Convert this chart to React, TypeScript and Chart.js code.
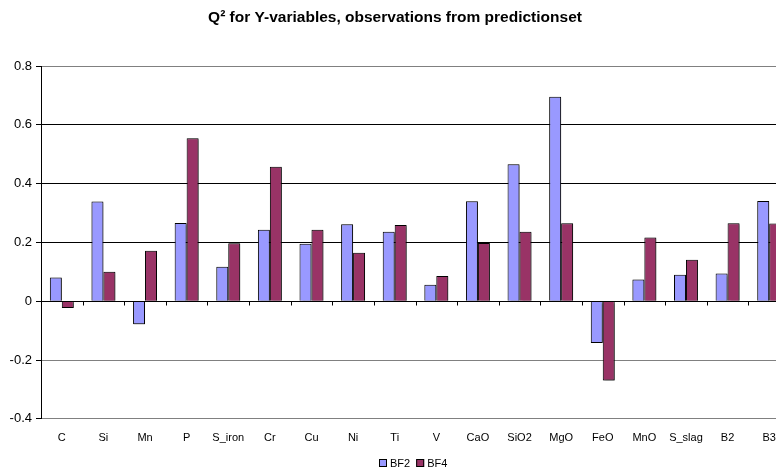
import React, { useEffect, useRef } from "react";
import { Chart, registerables } from "chart.js";

Chart.register(...registerables);

const categories = ["C", "Si", "Mn", "P", "S_iron", "Cr", "Cu", "Ni", "Ti", "V", "CaO", "SiO2", "MgO", "FeO", "MnO", "S_slag", "B2", "B3"];
const bf2 = [0.081, 0.339, -0.078, 0.266, 0.117, 0.243, 0.195, 0.262, 0.236, 0.056, 0.34, 0.466, 0.695, -0.142, 0.074, 0.09, 0.094, 0.341];
const bf4 = [-0.023, 0.1, 0.172, 0.554, 0.197, 0.457, 0.243, 0.165, 0.259, 0.086, 0.198, 0.236, 0.265, -0.27, 0.217, 0.141, 0.265, 0.264];
const yTicks = [-0.4, -0.2, 0, 0.2, 0.4, 0.6, 0.8];

const FONT = "'Liberation Sans', Arial, sans-serif";

const shadowPlugin = {
  id: "barShadow",
  beforeDatasetsDraw(chart: any) {
    const ctx = chart.ctx;
    ctx.save();
    ctx.shadowColor = "rgba(0,0,0,0.5)";
    ctx.shadowBlur = 2;
    ctx.shadowOffsetX = 1;
    ctx.shadowOffsetY = 1;
  },
  afterDatasetsDraw(chart: any) {
    chart.ctx.restore();
  },
};

const zeroAxisPlugin = {
  id: "zeroAxis",
  afterDatasetsDraw(chart: any) {
    const ctx = chart.ctx;
    const x = chart.scales.x;
    const y = chart.scales.y;
    const y0 = Math.round(y.getPixelForValue(0)) + 0.5;
    ctx.save();
    ctx.strokeStyle = "#000";
    ctx.lineWidth = 1;
    ctx.beginPath();
    ctx.moveTo(chart.chartArea.left, y0);
    ctx.lineTo(chart.chartArea.right, y0);
    const half = (x.getPixelForValue(1) - x.getPixelForValue(0)) / 2;
    for (let i = 0; i < categories.length; i++) {
      const px = Math.round(x.getPixelForValue(i) + half) + 0.5;
      ctx.moveTo(px, y0);
      ctx.lineTo(px, y0 + 4);
    }
    ctx.stroke();
    ctx.restore();
  },
};

const legendPlugin = {
  id: "customLegend",
  afterDraw(chart: any) {
    const ctx = chart.ctx;
    ctx.save();
    ctx.font = `11px ${FONT}`;
    ctx.textBaseline = "middle";
    ctx.textAlign = "left";
    const box = 8;
    const gap = 3;
    const itemGap = 6;
    const items = chart.data.datasets.map((d: any) => ({ label: d.label, color: d.backgroundColor, w: box + gap + ctx.measureText(d.label).width }));
    const total = items.reduce((s: number, it: any) => s + it.w, 0) + itemGap * (items.length - 1);
    let x = Math.round(413 - total / 2);
    const cy = 463;
    for (const it of items) {
      ctx.fillStyle = it.color;
      ctx.fillRect(x, cy - 4, box, box);
      ctx.strokeStyle = "#000";
      ctx.lineWidth = 1;
      ctx.strokeRect(x + 0.5, cy - 3.5, box - 1, box - 1);
      ctx.fillStyle = "#000";
      ctx.fillText(it.label, x + box + gap, cy + 0.5);
      x += it.w + itemGap;
    }
    ctx.restore();
  },
};

export default function App() {
  const ref = useRef<HTMLCanvasElement | null>(null);
  useEffect(() => {
    if (!ref.current) return;
    const chart = new Chart(ref.current, {
      type: "bar",
      data: {
        labels: categories,
        datasets: [
          { label: "BF2", data: bf2, backgroundColor: "#9999FF", borderColor: "#000", borderWidth: 1 },
          { label: "BF4", data: bf4, backgroundColor: "#993366", borderColor: "#000", borderWidth: 1 },
        ],
      },
      options: {
        responsive: false,
        animation: false,
        devicePixelRatio: 1,
        layout: { padding: { left: 0, right: 10, top: 0, bottom: 23 } },
        datasets: { bar: { categoryPercentage: 0.575, barPercentage: 1 } } as any,
        plugins: {
          title: {
            display: true,
            text: "Q² for Y-variables, observations from predictionset",
            color: "#000",
            font: { family: FONT, size: 15.5, weight: "bold" },
            padding: { top: 8.7, bottom: 38.7 },
          },
          legend: { display: false },
          tooltip: { enabled: false },
        },
        scales: {
          x: {
            grid: { display: false },
            border: { display: false },
            ticks: { color: "#000", font: { family: FONT, size: 11 }, padding: 5, maxRotation: 0, autoSkip: false },
          },
          y: {
            min: -0.4,
            max: 0.8,
            afterFit(scale: any) { scale.width = 41; },
            afterBuildTicks(scale: any) { scale.ticks = yTicks.map((v) => ({ value: v })); },
            border: { display: true, color: "#000", width: 1 },
            grid: {
              color: (c: any) => ([0, 0.2, 0.4, 0.6].some((v) => Math.abs(c.tick?.value - v) < 1e-6) ? "#000" : "#808080"),
              tickColor: "#000",
              tickLength: 5,
              lineWidth: 1,
            },
            ticks: {
              color: "#000",
              font: { family: FONT, size: 13 },
              padding: 4,
              callback: (v: any) => String(Math.round(Number(v) * 10) / 10),
            },
          },
        },
      },
      plugins: [shadowPlugin, zeroAxisPlugin, legendPlugin],
    });
    return () => chart.destroy();
  }, []);
  return (
    <div style={{ position: "fixed", left: 0, top: 0, width: 776, height: 473, overflow: "hidden", background: "#fff" }}>
      <canvas ref={ref} width={800} height={473} style={{ display: "block" }} />
    </div>
  );
}
